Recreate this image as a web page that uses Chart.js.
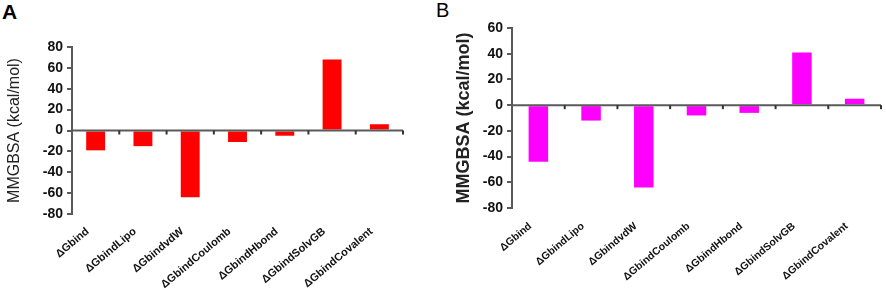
<!DOCTYPE html>
<html>
<head>
<meta charset="utf-8">
<script src="https://cdn.jsdelivr.net/npm/chart.js@4"></script>
<style>
  body { margin: 0; background: #fff; }
  .panel { position: absolute; top: 0; height: 290px; }
  #panel-a { left: 0; width: 440px; }
  #panel-b { left: 440px; width: 446px; }
  .letter { position: absolute; font-family: "Liberation Sans", Arial, sans-serif; font-weight: bold; font-size: 21px; color: #000; }
</style>
</head>
<body>
<div class="letter" style="left:2px; top:0px;">A</div>
<div class="letter" style="left:436px; top:-1px; font-weight:normal; font-size:20px;">B</div>
<div class="panel" id="panel-a"><canvas id="chart-a"></canvas></div>
<div class="panel" id="panel-b"><canvas id="chart-b"></canvas></div>
<script>
// Energy terms (same for both panels)
const categories = ["ΔGbind", "ΔGbindLipo", "ΔGbindvdW", "ΔGbindCoulomb", "ΔGbindHbond", "ΔGbindSolvGB", "ΔGbindCovalent"];

// Panel A values (kcal/mol)
const valuesA = [-19, -15, -64, -11, -5, 68, 6];
// Panel B values (kcal/mol)
const valuesB = [-44, -12, -64, -8, -6, 41, 5];

const yTicksA = { min: -80, max: 80, step: 20 };
const yTicksB = { min: -80, max: 60, step: 20 };

const axisColor = "#5a5a5a";

// zero line with little category ticks, drawn through the library scales
const zeroAxis = {
    id: "zeroAxis",
    afterDatasetsDraw(chart) {
        const { ctx, chartArea, scales } = chart;
        const y0 = scales.y.getPixelForValue(0);
        ctx.save();
        ctx.strokeStyle = axisColor;
        ctx.lineWidth = 2;
        ctx.beginPath();
        ctx.moveTo(chartArea.left, y0);
        ctx.lineTo(chartArea.right, y0);
        ctx.stroke();
        ctx.fillStyle = "#333";
        for (let i = 0; i < categories.length; i++) {
            const x = scales.x.getPixelForValue(i + 0.5);
            ctx.fillRect(x - 1, y0, 2, 4);
        }
        ctx.restore();
    }
};

function makeChart(canvasId, values, color, yt, opts) {
    const ctx = document.getElementById(canvasId).getContext("2d");
    return new Chart(ctx, {
        type: "bar",
        data: {
            labels: categories,
            datasets: [{
                data: values,
                backgroundColor: color,
                borderWidth: 0,
                barPercentage: opts.barPct,
                categoryPercentage: 1
            }]
        },
        options: {
            responsive: true,
            maintainAspectRatio: false,
            animation: false,
            layout: { padding: opts.padding },
            plugins: { legend: { display: false }, tooltip: { enabled: false } },
            scales: {
                x: {
                    grid: { display: false },
                    border: { display: false },
                    ticks: {
                        color: "#111",
                        font: { family: "Liberation Sans", weight: "bold", size: opts.catSize },
                        minRotation: 40,
                        maxRotation: 40,
                        padding: opts.catPad,
                        labelOffset: -8,
                        autoSkip: false
                    },
                    afterFit: (s) => { s.height = opts.xHeight; }
                },
                y: {
                    min: yt.min,
                    max: yt.max,
                    grid: { drawOnChartArea: false, drawTicks: true, tickLength: 5, color: axisColor, lineWidth: 2 },
                    border: { display: true, color: axisColor, width: 2 },
                    ticks: {
                        stepSize: yt.step,
                        color: "#111",
                        padding: 4,
                        font: { family: "Liberation Sans", weight: "bold", size: 14 }
                    },
                    title: {
                        display: true,
                        text: "MMGBSA (kcal/mol)",
                        color: "#222",
                        font: { family: "Liberation Sans", weight: opts.titleWeight, size: opts.titleSize },
                        padding: { top: opts.titlePad, bottom: 0 }
                    },
                    afterFit: (s) => { s.width = 72; }
                }
            }
        },
        plugins: [zeroAxis]
    });
}

makeChart("chart-a", valuesA, "#ff0000", yTicksA, {
    padding: { top: 47, right: 37, bottom: 0, left: 0 },
    xHeight: 76, barPct: 0.4, catSize: 11, catPad: 3,
    titleSize: 16, titleWeight: "normal", titlePad: 5
});

makeChart("chart-b", valuesB, "#ff00ff", yTicksB, {
    padding: { top: 28, right: 5, bottom: 0, left: 0 },
    xHeight: 82, barPct: 0.37, catSize: 10.5, catPad: 4,
    titleSize: 18, titleWeight: "bold", titlePad: 13
});
</script>
</body>
</html>
